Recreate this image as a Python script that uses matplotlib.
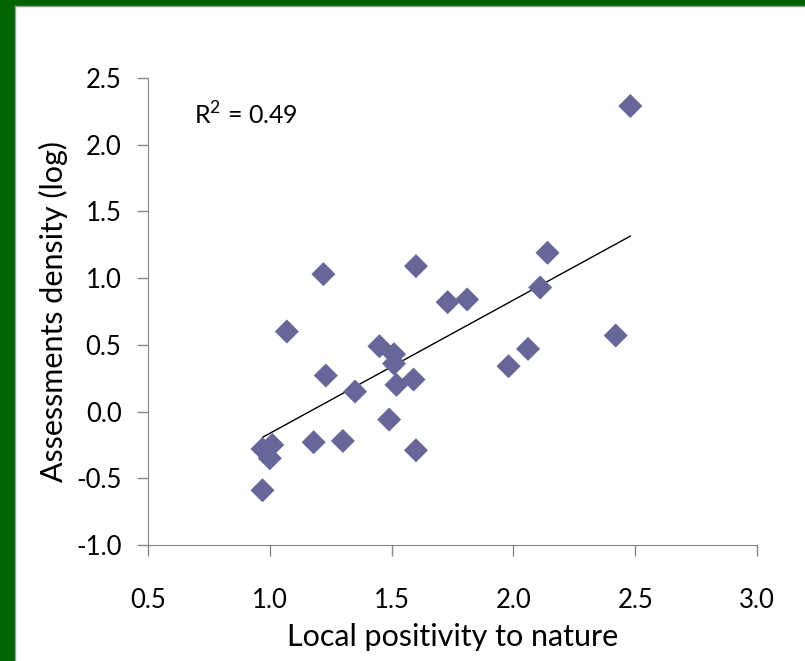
import numpy as np
import matplotlib
matplotlib.use('Agg')
from matplotlib import pyplot as plt
from matplotlib.patches import Rectangle

# local positivity to nature vs assessments density (log)
positivity = [2.48, 2.14, 1.60, 1.22, 2.11, 1.81, 1.73, 1.07, 2.42, 1.45,
              2.06, 1.51, 1.51, 1.23, 1.59, 1.52, 1.35, 1.98, 1.49, 1.18,
              1.30, 1.60, 0.97, 1.01, 1.00, 0.97]
density = [2.29, 1.19, 1.09, 1.03, 0.93, 0.84, 0.82, 0.60, 0.57, 0.49,
           0.47, 0.43, 0.36, 0.27, 0.24, 0.20, 0.15, 0.34, -0.06, -0.23,
           -0.22, -0.29, -0.28, -0.25, -0.35, -0.59]
xticks = [0.5, 1.0, 1.5, 2.0, 2.5, 3.0]
yticks = [-1.0, -0.5, 0.0, 0.5, 1.0, 1.5, 2.0, 2.5]
r2_label = 'R$^2$ = 0.49'

plt.rcParams['font.family'] = ['Lato', 'DejaVu Sans']
plt.rcParams['mathtext.fontset'] = 'custom'
plt.rcParams['mathtext.rm'] = 'Lato'

fig = plt.figure(figsize=(8.05, 6.61), dpi=100)
fig.patch.set_facecolor('white')

# green frame on top and left
green = '#006400'
fig.add_artist(Rectangle((0, 1 - 5/661), 1, 5/661, transform=fig.transFigure,
                         color=green, zorder=0))
fig.add_artist(Rectangle((0, 0), 14/805, 1, transform=fig.transFigure,
                         color=green, zorder=0))
fig.add_artist(plt.Line2D([14.5/805, 1], [1 - 5.5/661, 1 - 5.5/661],
                          transform=fig.transFigure, color='#999999', lw=1))
fig.add_artist(plt.Line2D([14.5/805, 14.5/805], [0, 1 - 5.5/661],
                          transform=fig.transFigure, color='#999999', lw=1))

ax = fig.add_axes([148/805, 116/661, 609/805, 467/661])

x = np.array(positivity)
y = np.array(density)
ax.scatter(x, y, marker='D', s=150, color='#666699', edgecolors='none', zorder=3)

k, b = np.polyfit(x, y, 1)
xs = np.array([x.min(), x.max()])
ax.plot(xs, k * xs + b, color='black', lw=1, zorder=2)

ax.text(0.69, 2.22, r2_label, fontsize=18, va='center', ha='left')

ax.set_xlim(0.5, 3.0)
ax.set_ylim(-1.0, 2.5)
ax.set_xticks(xticks)
ax.set_yticks(yticks)
ax.set_xticklabels(['%.1f' % v for v in xticks])
ax.set_yticklabels(['%.1f' % v for v in yticks])

for s in ['top', 'right']:
    ax.spines[s].set_visible(False)
for s in ['left', 'bottom']:
    ax.spines[s].set_color('#868686')
ax.tick_params(axis='both', direction='out', length=8, color='#868686',
               labelsize=18.5, width=1)
ax.tick_params(axis='x', pad=23)
ax.tick_params(axis='y', pad=11)

ax.set_xlabel('Local positivity to nature', fontsize=22, labelpad=7)
ax.set_ylabel('Assessments density (log)', fontsize=22, labelpad=6)

fig.savefig('out.png', dpi=100)
